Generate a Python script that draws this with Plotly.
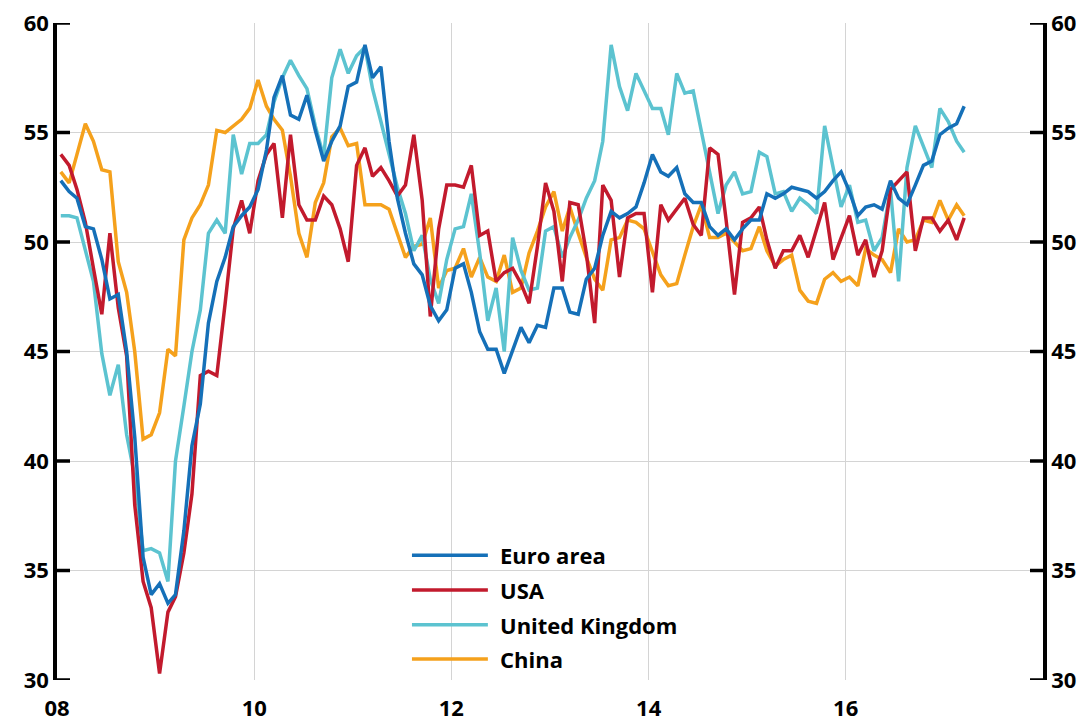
import pandas as pd
import plotly.graph_objects as go

# Monthly manufacturing PMI readings, January 2008 to March 2017
start_month = "2008-01-01"

euro_area = [
    52.8, 52.3, 52.0, 50.7, 50.6, 49.2, 47.4, 47.6, 45.0, 41.1, 35.6, 33.9,
    34.4, 33.5, 33.9, 36.8, 40.7, 42.6, 46.3, 48.2, 49.3, 50.7, 51.2, 51.6,
    52.4, 54.2, 56.6, 57.6, 55.8, 55.6, 56.7, 55.1, 53.7, 54.6, 55.3, 57.1,
    57.3, 59.0, 57.5, 58.0, 54.6, 52.0, 50.4, 49.0, 48.5, 47.1, 46.4, 46.9,
    48.8, 49.0, 47.7, 45.9, 45.1, 45.1, 44.0, 45.1, 46.1, 45.4, 46.2, 46.1,
    47.9, 47.9, 46.8, 46.7, 48.3, 48.8, 50.3, 51.4, 51.1, 51.3, 51.6, 52.7,
    54.0, 53.2, 53.0, 53.4, 52.2, 51.8, 51.8, 50.7, 50.3, 50.6, 50.1, 50.6,
    51.0, 51.0, 52.2, 52.0, 52.2, 52.5, 52.4, 52.3, 52.0, 52.3, 52.8, 53.2,
    52.3, 51.2, 51.6, 51.7, 51.5, 52.8, 52.0, 51.7, 52.6, 53.5, 53.7, 54.9,
    55.2, 55.4, 56.2,
]

usa = [
    54.0, 53.5, 52.4, 50.9, 48.8, 46.7, 50.4, 47.0, 44.8, 38.0, 34.5, 33.3,
    30.3, 33.1, 33.8, 35.8, 38.5, 43.9, 44.1, 43.9, 47.2, 50.6, 51.9, 50.4,
    52.8, 54.0, 54.5, 51.1, 54.9, 51.7, 51.0, 51.0, 52.1, 51.7, 50.6, 49.1,
    53.5, 54.3, 53.0, 53.4, 52.8, 52.1, 52.6, 54.9, 51.9, 46.6, 50.6, 52.6,
    52.6, 52.5, 53.5, 50.3, 50.5, 48.2, 48.6, 48.8, 48.1, 47.2, 49.8, 52.7,
    51.4, 48.2, 51.8, 51.7, 49.5, 46.3, 52.6, 51.9, 48.4, 51.1, 51.3, 51.3,
    47.7, 51.7, 51.0, 51.5, 52.0, 50.8, 50.3, 54.3, 54.0, 51.0, 47.6, 50.9,
    51.1, 51.6, 50.1, 48.8, 49.6, 49.6, 50.3, 49.3, 50.6, 51.8, 49.2, 50.2,
    51.2, 49.4, 50.1, 48.4, 49.6, 52.4, 52.8, 53.2, 49.6, 51.1, 51.1, 50.5,
    51.0, 50.1, 51.1,
]

united_kingdom = [
    51.2, 51.2, 51.1, 49.7, 48.2, 44.9, 43.0, 44.4, 41.2, 39.3, 35.9, 36.0,
    35.8, 34.5, 40.0, 42.5, 45.0, 46.9, 50.4, 51.0, 50.4, 54.9, 53.1, 54.5,
    54.5, 54.9, 56.4, 57.5, 58.3, 57.6, 57.0, 55.3, 53.9, 57.5, 58.8, 57.7,
    58.5, 58.9, 57.0, 55.5, 54.0, 52.5, 51.3, 49.6, 50.3, 48.3, 47.2, 49.2,
    50.6, 50.7, 52.2, 49.5, 46.4, 47.9, 45.0, 50.2, 48.7, 47.8, 47.9, 50.5,
    50.7, 49.3, 50.2, 51.0, 52.0, 52.8, 54.6, 59.0, 57.1, 56.0, 57.7, 56.9,
    56.1, 56.1, 54.9, 57.7, 56.8, 56.9, 55.1, 53.2, 51.3, 52.6, 53.2, 52.2,
    52.3, 54.1, 53.9, 52.2, 52.3, 51.4, 52.0, 51.7, 51.3, 55.3, 53.5, 51.6,
    52.6, 50.9, 51.0, 49.6, 50.2, 52.4, 48.2, 53.4, 55.3, 54.4, 53.4, 56.1,
    55.5, 54.6, 54.1,
]

china = [
    53.2, 52.7, 54.0, 55.4, 54.6, 53.3, 53.2, 49.1, 47.7, 45.0, 41.0, 41.2,
    42.2, 45.1, 44.8, 50.1, 51.1, 51.7, 52.6, 55.1, 55.0, 55.3, 55.6, 56.1,
    57.4, 56.2, 55.6, 55.1, 53.0, 50.4, 49.3, 51.8, 52.7, 54.8, 55.2, 54.4,
    54.5, 51.7, 51.7, 51.7, 51.5, 50.4, 49.3, 49.8, 49.9, 51.1, 47.9, 48.7,
    48.8, 49.7, 48.4, 49.3, 48.4, 48.2, 49.4, 47.7, 47.9, 49.5, 50.5, 51.6,
    52.3, 50.5, 51.6, 50.4, 49.3, 48.3, 47.8, 50.1, 50.2, 51.0, 50.9, 50.6,
    49.6, 48.5, 48.0, 48.1, 49.4, 50.7, 51.7, 50.2, 50.2, 50.4, 50.0, 49.6,
    49.7, 50.7, 49.6, 48.9, 49.2, 49.4, 47.8, 47.3, 47.2, 48.3, 48.6, 48.2,
    48.4, 48.0, 49.7, 49.4, 49.2, 48.6, 50.6, 50.0, 50.1, 51.0, 50.9, 51.9,
    51.0, 51.7, 51.2,
]

series_names = ["Euro area", "USA", "United Kingdom", "China"]
series_values = [euro_area, usa, united_kingdom, china]
series_colors = ["#1570B8", "#C21A2D", "#5CC3D0", "#F5A11C"]

year_ticks = [2008, 2010, 2012, 2014, 2016]
year_labels = ["08", "10", "12", "14", "16"]
value_ticks = [30, 35, 40, 45, 50, 55, 60]

# Observations are plotted at the middle of each month
months = pd.date_range(start_month, periods=len(euro_area), freq="MS") + pd.Timedelta(days=14)

fig = go.Figure()

# China drawn first; the euro area sits on the right-hand (identical) scale,
# which also puts it on top of the other lines
draw_order = list(zip(series_names, series_values, series_colors))[::-1]
for name, values, color in draw_order:
    fig.add_trace(go.Scatter(
        x=months, y=values, name=name, mode="lines",
        line=dict(color=color, width=3.5),
        yaxis="y2" if name == "Euro area" else "y",
        showlegend=False,
    ))

grid_color = "#D4D4D4"
tick_font = dict(family="Open Sans", size=22, color="black", weight="bold")

y_common = dict(
    range=[30, 60], tickvals=value_ticks, showline=True, linecolor="black",
    linewidth=3.5, ticks="", zeroline=False, tickfont=tick_font,
    automargin=False, fixedrange=True,
)

fig.update_layout(
    width=1086, height=727,
    margin=dict(l=57, r=43, t=23, b=47),
    plot_bgcolor="white", paper_bgcolor="white",
    xaxis=dict(
        type="date", range=["2008-01-01", "2018-01-01"],
        tickvals=[f"{y}-01-01" for y in year_ticks], ticktext=year_labels,
        showgrid=True, gridcolor=grid_color, gridwidth=1,
        showline=False, ticks="", zeroline=False,
        tickfont=tick_font, ticklabelstandoff=13, automargin=False,
        fixedrange=True,
    ),
    yaxis=dict(showgrid=True, gridcolor=grid_color, gridwidth=1, **y_common),
    yaxis2=dict(overlaying="y", side="right", showgrid=False, **y_common),
)

# Short inward tick marks on both value axes
tick_len = 13 / 986
for v in value_ticks:
    for x0, x1 in [(0, tick_len), (1 - tick_len, 1)]:
        fig.add_shape(
            type="line", xref="paper", yref="y", x0=x0, x1=x1, y0=v, y1=v,
            line=dict(color="black", width=3.5), layer="above",
        )

# Legend block: coloured line sample followed by the series name
legend_rows = [0.190, 0.137, 0.084, 0.032]
for name, color, row in zip(series_names, series_colors, legend_rows):
    fig.add_shape(
        type="line", xref="paper", yref="paper",
        x0=0.360, x1=0.437, y0=row, y1=row,
        line=dict(color=color, width=3.5),
    )
    fig.add_annotation(
        xref="paper", yref="paper", x=0.447, y=row,
        text=name, showarrow=False, xanchor="left", yanchor="middle",
        font=dict(family="Open Sans", size=22, color="black", weight="bold"),
    )

fig.write_html("out.html")
